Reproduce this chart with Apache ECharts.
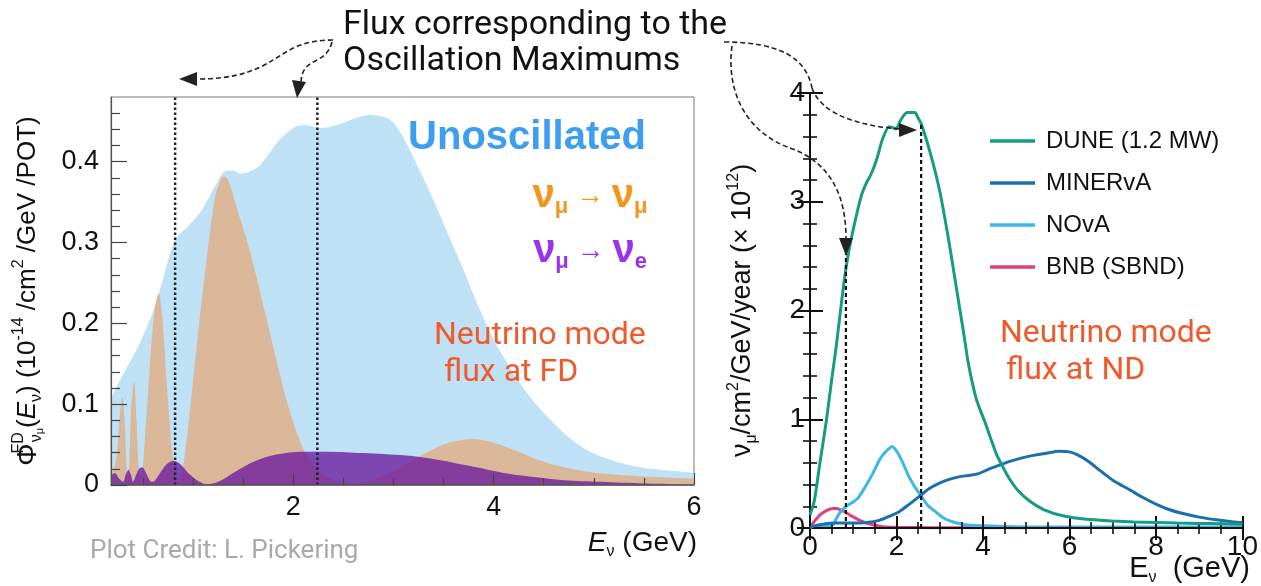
<!DOCTYPE html>
<html>
<head>
<meta charset="utf-8">
<script src="https://cdn.jsdelivr.net/npm/echarts@6/dist/echarts.min.js"></script>
<style>
  html, body { margin: 0; padding: 0; background: #fff; }
  #chart { width: 1261px; height: 586px; }
</style>
</head>
<body>
<div id="chart"></div>
<script>
// ---- Far detector flux (10^-14 /cm^2 /GeV /POT) ----
const unoscE    = [0.18,0.25,0.35,0.47,0.6,0.7,0.82,0.95,1.07,1.2,1.32,1.4,1.47,1.57,1.67,1.76,1.84,1.94,2.04,2.14,2.24,2.37,2.5,2.63,2.77,2.88,2.97,3.07,3.2,3.32,3.45,3.57,3.7,3.82,4.0,4.12,4.24,4.37,4.5,4.62,4.74,4.87,5.0,5.17,5.34,5.5,5.67,5.84,6.0];
const unoscFlux = [0.107,0.125,0.148,0.176,0.215,0.255,0.303,0.32,0.337,0.365,0.388,0.389,0.385,0.388,0.396,0.41,0.424,0.436,0.444,0.445,0.442,0.443,0.448,0.454,0.458,0.456,0.452,0.436,0.405,0.374,0.338,0.303,0.266,0.229,0.18,0.154,0.13,0.108,0.089,0.074,0.06,0.048,0.039,0.031,0.025,0.021,0.019,0.017,0.015];

const numuE    = [0.18,0.23,0.27,0.295,0.32,0.345,0.36,0.38,0.41,0.435,0.46,0.48,0.52,0.58,0.62,0.655,0.69,0.74,0.79,0.84,0.88,0.93,1.0,1.06,1.15,1.22,1.28,1.31,1.35,1.45,1.55,1.64,1.72,1.8,1.88,1.97,2.09,2.19,2.3,2.45,2.6,2.8,3.0,3.14,3.3,3.5,3.65,3.8,3.95,4.1,4.25,4.4,4.6,4.9,5.2,5.6,6.0];
const numuFlux = [0.01,0.03,0.09,0.109,0.07,0.01,0.02,0.09,0.128,0.08,0.015,0.01,0.06,0.17,0.22,0.237,0.21,0.12,0.04,0.003,0.012,0.05,0.13,0.2,0.295,0.357,0.379,0.382,0.377,0.337,0.297,0.254,0.212,0.171,0.13,0.089,0.047,0.027,0.013,0.004,0.002,0.007,0.017,0.027,0.038,0.05,0.055,0.057,0.054,0.048,0.041,0.033,0.025,0.017,0.013,0.01,0.008];

const nueE    = [0.18,0.22,0.26,0.3,0.33,0.355,0.38,0.4,0.43,0.46,0.49,0.53,0.57,0.6,0.66,0.73,0.8,0.87,0.95,1.05,1.14,1.25,1.4,1.57,1.74,1.9,2.07,2.3,2.6,2.8,3.07,3.3,3.5,3.74,3.94,4.15,4.4,4.7,5.07,5.5,6.0];
const nueFlux = [0.012,0.015,0.008,0.004,0.014,0.019,0.012,0.004,0.012,0.02,0.022,0.015,0.005,0.004,0.013,0.025,0.03,0.026,0.015,0.005,0.001,0.004,0.015,0.027,0.035,0.039,0.041,0.041,0.04,0.039,0.037,0.034,0.03,0.024,0.019,0.014,0.01,0.006,0.004,0.002,0.001];

// oscillation-maximum energies marked on the FD plot (GeV)
const fdOscMax = [0.82, 2.24];
const fdMinorTicks = [0.5,1,1.5,2.5,3,3.5,4.5,5,5.5];
const fdMajorTicks = [2,4,6];
const fdYMajor = [0,0.1,0.2,0.3,0.4];
const fdYMinor = [0.02,0.04,0.06,0.08,0.12,0.14,0.16,0.18,0.22,0.24,0.26,0.28,0.32,0.34,0.36,0.38,0.42,0.44,0.46];

// ---- Near detector nu_mu flux (x10^12 /cm^2 /GeV /year) ----
const duneE    = [0,0.1,0.23,0.38,0.5,0.6,0.7,0.8,0.9,1.03,1.19,1.3,1.42,1.55,1.68,1.83,1.92,1.99,2.07,2.16,2.25,2.35,2.43,2.5,2.57,2.67,2.78,2.9,3.02,3.14,3.26,3.38,3.49,3.57,3.65,3.74,3.85,3.95,4.05,4.2,4.32,4.45,4.6,4.8,5.07,5.4,5.87,6.4,7.0,7.5,8.0,8.5,9.0,9.5,10];
const duneFlux = [0.12,0.25,0.6,0.99,1.36,1.65,1.98,2.3,2.55,2.8,3.06,3.17,3.26,3.4,3.58,3.69,3.68,3.67,3.73,3.79,3.82,3.82,3.82,3.77,3.72,3.6,3.45,3.27,3.06,2.8,2.52,2.22,1.95,1.75,1.54,1.36,1.18,1.07,0.97,0.8,0.67,0.57,0.46,0.35,0.25,0.17,0.11,0.08,0.065,0.055,0.05,0.045,0.042,0.04,0.035];

const minervaE    = [0,0.1,0.3,0.6,1.0,1.3,1.6,1.85,2.06,2.3,2.56,2.75,2.98,3.2,3.44,3.7,3.9,4.1,4.36,4.6,4.9,5.2,5.5,5.75,6.0,6.2,6.45,6.7,7.0,7.4,7.7,8.0,8.3,8.6,9.0,9.4,9.8,10];
const minervaFlux = [0,0.02,0.035,0.045,0.045,0.05,0.07,0.11,0.15,0.22,0.3,0.36,0.41,0.445,0.47,0.485,0.5,0.535,0.575,0.61,0.645,0.67,0.69,0.705,0.7,0.67,0.61,0.53,0.44,0.35,0.28,0.22,0.17,0.135,0.1,0.075,0.055,0.05];

const novaE    = [0,0.3,0.53,0.6,0.69,0.84,1.0,1.1,1.25,1.45,1.6,1.68,1.8,1.9,1.98,2.06,2.18,2.29,2.42,2.56,2.72,2.9,3.1,3.28,3.59,4.0,5.0,6.0,8.0,10];
const novaFlux = [0,0.01,0.03,0.08,0.14,0.2,0.24,0.27,0.36,0.5,0.62,0.67,0.72,0.75,0.72,0.67,0.57,0.47,0.38,0.3,0.21,0.15,0.09,0.06,0.03,0.02,0.01,0.01,0.01,0.01];

const bnbE    = [0,0.1,0.23,0.38,0.53,0.62,0.69,0.8,0.92,1.03,1.15,1.3,1.45,1.6,1.76,2.0,2.5,3.0,4.0,5.0];
const bnbFlux = [0.01,0.06,0.12,0.16,0.18,0.18,0.17,0.15,0.12,0.095,0.07,0.045,0.03,0.017,0.01,0.006,0.004,0.003,0.002,0.001];

// oscillation-maximum energies and the flux level the guide lines reach
const ndOscMax = [0.83, 2.57];
const ndOscTop = [2.52, 3.72];

const ndNames  = ['DUNE (1.2 MW)', 'MINERvA', 'NOvA', 'BNB (SBND)'];
const ndColors = ['#169c86', '#1b6fae', '#3cb8e6', '#e0407c'];

const zip = (xs, ys) => xs.map((x, i) => [x, ys[i]]);

const numFont = 'Liberation Sans, Arial, sans-serif';
const txtFont = 'Roboto, sans-serif';

const chart = echarts.init(document.getElementById('chart'), null, { renderer: 'canvas' });

const tickLine = { color: '#444', width: 1.2 };
const blackTick = { color: '#111', width: 2 };
const TOP = 100;

function richSmall(base, lh) {
  return {
    b:   { fontSize: base, fontFamily: numFont, color: '#111', lineHeight: lh },
    p:   { fontSize: base + 2, fontFamily: numFont, color: '#111', lineHeight: lh },
    i:   { fontSize: base, fontFamily: numFont, fontStyle: 'italic', color: '#111', lineHeight: lh },
    sup: { fontSize: 16, fontFamily: numFont, color: '#111', lineHeight: 18, verticalAlign: 'top' },
    fd:  { fontSize: 16, fontFamily: numFont, color: '#111', lineHeight: 18, verticalAlign: 'top', width: 1 },
    sub: { fontSize: 16, fontFamily: numFont, color: '#111', lineHeight: 20, verticalAlign: 'bottom' },
    ss:  { fontSize: 11, fontFamily: numFont, color: '#111', lineHeight: 14, verticalAlign: 'bottom' }
  };
}

const option = {
  animation: false,
  backgroundColor: '#fff',
  grid: [
    { left: 111, top: 97, width: 583, height: 388, show: true, borderColor: '#7a7a7a', borderWidth: 1, backgroundColor: 'transparent' },
    { left: 810, top: 93, width: 436, height: 435 }
  ],
  xAxis: [
    { // FD energy axis: labels + short ticks
      gridIndex: 0, type: 'value', min: 0.18, max: 6, position: 'bottom', z: 5,
      axisLine: { show: true, lineStyle: { color: '#555', width: 1.5 } },
      axisTick: { show: true, inside: true, length: 7, customValues: fdMinorTicks, lineStyle: tickLine },
      axisLabel: { customValues: fdMajorTicks, fontSize: 27, color: '#111', fontFamily: numFont, margin: 9 },
      splitLine: { show: false }
    },
    { // FD energy axis: long ticks
      gridIndex: 0, type: 'value', min: 0.18, max: 6, position: 'bottom', z: 5,
      axisLine: { show: false },
      axisTick: { show: true, inside: true, length: 12, customValues: fdMajorTicks, lineStyle: tickLine },
      axisLabel: { show: false },
      splitLine: { show: false }
    },
    { // ND energy axis
      gridIndex: 1, type: 'value', min: 0, max: 10, interval: 2, position: 'bottom', z: 5,
      axisLine: { show: true, lineStyle: { color: '#111', width: 2 } },
      axisTick: { show: true, inside: true, length: 12, lineStyle: blackTick },
      minorTick: { show: true, splitNumber: 4, length: 6, lineStyle: { color: '#111', width: 1.6 } },
      axisLabel: { fontSize: 28, color: '#111', fontFamily: numFont, margin: 5 },
      splitLine: { show: false }
    },
    { // ND top frame
      gridIndex: 1, type: 'value', min: 0, max: 10, interval: 2, position: 'top', z: 5,
      axisLine: { show: true, lineStyle: { color: '#111', width: 2 } },
      axisTick: { show: true, inside: true, length: 12, lineStyle: blackTick },
      minorTick: { show: true, splitNumber: 4, length: 6, lineStyle: { color: '#111', width: 1.6 } },
      axisLabel: { show: false },
      splitLine: { show: false }
    }
  ],
  yAxis: [
    { // FD flux axis: labels + long ticks
      gridIndex: 0, type: 'value', min: 0, max: 0.48, position: 'left', z: 5,
      axisLine: { show: true, lineStyle: { color: '#555', width: 1.2 } },
      axisTick: { show: true, inside: true, length: 16, customValues: fdYMajor, lineStyle: tickLine },
      axisLabel: { customValues: fdYMajor, fontSize: 27, color: '#111', fontFamily: numFont, margin: 12 },
      splitLine: { show: false },
      nameLocation: 'middle', nameRotate: 90, nameGap: 66,
      name: '{p|Φ}{fd|FD}{sub|ν}{ss|μ}{b|(}{i|E}{sub|ν}{b|) (10}{sup|-14}{b| /cm}{sup|2}{b| /GeV /POT)}',
      nameTextStyle: { rich: richSmall(26, 34) }
    },
    { // FD flux axis: short ticks
      gridIndex: 0, type: 'value', min: 0, max: 0.48, position: 'left', z: 5,
      axisLine: { show: false },
      axisTick: { show: true, inside: true, length: 9, customValues: fdYMinor, lineStyle: tickLine },
      axisLabel: { show: false },
      splitLine: { show: false }
    },
    { // ND flux axis
      gridIndex: 1, type: 'value', min: 0, max: 4, interval: 1, position: 'left', z: 5,
      axisLine: { show: true, lineStyle: { color: '#111', width: 2 } },
      axisTick: { show: true, inside: true, length: 13, lineStyle: blackTick },
      minorTick: { show: true, splitNumber: 5, length: 7, lineStyle: { color: '#111', width: 1.6 } },
      axisLabel: { fontSize: 28, color: '#111', fontFamily: numFont, margin: 5 },
      splitLine: { show: false },
      nameLocation: 'middle', nameRotate: 90, nameGap: 50,
      name: '{b|ν}{sub|μ}{b|/cm}{sup|2}{b|/GeV/year (× 10}{sup|12}{b|)}',
      nameTextStyle: { rich: richSmall(27, 34) }
    },
    { // ND right frame
      gridIndex: 1, type: 'value', min: 0, max: 4, interval: 1, position: 'right', z: 5,
      axisLine: { show: true, lineStyle: { color: '#111', width: 2 } },
      axisTick: { show: true, inside: true, length: 13, lineStyle: blackTick },
      minorTick: { show: true, splitNumber: 5, length: 7, lineStyle: { color: '#111', width: 1.6 } },
      axisLabel: { show: false },
      splitLine: { show: false }
    }
  ],
  legend: {
    data: ndNames,
    orient: 'vertical',
    left: 985, top: 124,
    icon: 'rect',
    itemWidth: 45, itemHeight: 3.5, itemGap: 18,
    textStyle: { fontSize: 24, fontFamily: numFont, color: '#111', padding: [0, 0, 0, 6], lineHeight: 24 },
    selectedMode: false
  },
  series: [
    {
      name: 'Unoscillated', type: 'line', xAxisIndex: 0, yAxisIndex: 0,
      data: zip(unoscE, unoscFlux), smooth: 0.3, symbol: 'none',
      lineStyle: { width: 0 }, areaStyle: { color: '#bfe1f6', opacity: 1 }, z: 1
    },
    {
      name: 'numu survival', type: 'line', xAxisIndex: 0, yAxisIndex: 0,
      data: zip(numuE, numuFlux), smooth: 0.3, symbol: 'none',
      lineStyle: { width: 0 }, areaStyle: { color: '#dbb799', opacity: 1 }, z: 2
    },
    {
      name: 'nue appearance', type: 'line', xAxisIndex: 0, yAxisIndex: 0,
      data: zip(nueE, nueFlux), smooth: 0.3, symbol: 'none',
      lineStyle: { width: 0 }, areaStyle: { color: 'rgb(104,22,156)', opacity: 0.76 }, z: 3
    },
    ...fdOscMax.map((e, i) => ({
      name: 'fd-osc-max-' + i, type: 'line', xAxisIndex: 0, yAxisIndex: 0,
      data: [[e, 0], [e, 0.48]], symbol: 'none', z: 4,
      lineStyle: { color: '#222', width: 2.5, type: [2.5, 2.5] }
    })),
    ...[duneFlux, minervaFlux, novaFlux, bnbFlux].map((ys, k) => ({
      name: ndNames[k], type: 'line', xAxisIndex: 2, yAxisIndex: 2,
      data: zip([duneE, minervaE, novaE, bnbE][k], ys), smooth: 0.25,
      symbol: 'none', showSymbol: false, color: ndColors[k],
      itemStyle: { color: ndColors[k] },
      lineStyle: { color: ndColors[k], width: 3 }, z: 3 + (3 - k)
    })),
    ...ndOscMax.map((e, i) => ({
      name: 'nd-osc-max-' + i, type: 'line', xAxisIndex: 2, yAxisIndex: 2,
      data: [[e, 0], [e, ndOscTop[i]]], symbol: 'none', z: 8,
      lineStyle: { color: '#111', width: 2.2, type: [4, 3] }
    }))
  ],
  graphic: [
    // headline
    { type: 'text', z: TOP, x: 343, y: 25, style: { text: 'Flux corresponding to the', font: '34px ' + txtFont, fill: '#111', verticalAlign: 'middle' } },
    { type: 'text', z: TOP, x: 343, y: 61, style: { text: 'Oscillation Maximums', font: '34px ' + txtFont, fill: '#111', verticalAlign: 'middle' } },
    // dashed guides from the headline
    { type: 'bezierCurve', z: TOP, shape: { x1: 333, y1: 40, cpx1: 272, cpy1: 40, cpx2: 282, cpy2: 79, x2: 196, y2: 79 }, style: { stroke: '#222', lineWidth: 1.6, lineDash: [5, 3], fill: null } },
    { type: 'polygon', z: TOP, shape: { points: [[179, 79], [197, 72], [197, 86]] }, style: { fill: '#222' } },
    { type: 'bezierCurve', z: TOP, shape: { x1: 332, y1: 42, cpx1: 326, cpy1: 66, cpx2: 302, cpy2: 56, x2: 301, y2: 82 }, style: { stroke: '#222', lineWidth: 1.6, lineDash: [5, 3], fill: null } },
    { type: 'polygon', z: TOP, shape: { points: [[297, 98], [292, 80], [306, 82]] }, style: { fill: '#222' } },
    { type: 'bezierCurve', z: TOP, shape: { x1: 724, y1: 42, cpx1: 780, cpy1: 42, cpx2: 806, cpy2: 58, x2: 812, y2: 88 }, style: { stroke: '#222', lineWidth: 1.6, lineDash: [5, 3], fill: null } },
    { type: 'bezierCurve', z: TOP, shape: { x1: 812, y1: 88, cpx1: 822, cpy1: 116, cpx2: 862, cpy2: 126, x2: 900, y2: 129 }, style: { stroke: '#222', lineWidth: 1.6, lineDash: [5, 3], fill: null } },
    { type: 'polygon', z: TOP, shape: { points: [[917, 130], [899, 123], [899, 137]] }, style: { fill: '#222' } },
    { type: 'bezierCurve', z: TOP, shape: { x1: 732, y1: 46, cpx1: 726, cpy1: 90, cpx2: 745, cpy2: 132, x2: 790, y2: 148 }, style: { stroke: '#222', lineWidth: 1.6, lineDash: [5, 3], fill: null } },
    { type: 'bezierCurve', z: TOP, shape: { x1: 790, y1: 148, cpx1: 830, cpy1: 162, cpx2: 846, cpy2: 195, x2: 846, y2: 238 }, style: { stroke: '#222', lineWidth: 1.6, lineDash: [5, 3], fill: null } },
    { type: 'polygon', z: TOP, shape: { points: [[846, 256], [839, 238], [853, 238]] }, style: { fill: '#222' } },
    // FD plot key
    { type: 'text', z: TOP, x: 527, y: 138, style: { text: 'Unoscillated', font: 'bold 40px ' + numFont, fill: '#3d9df0', align: 'center', verticalAlign: 'middle' } },
    { type: 'text', z: TOP, x: 590, y: 196, style: {
        text: '{n|ν}{s|μ}{a| → }{n|ν}{s|μ}', align: 'center', verticalAlign: 'middle',
        rich: {
          n: { fill: '#f7941d', fontSize: 40, fontWeight: 'bold', fontFamily: numFont, lineHeight: 44 },
          s: { fill: '#f7941d', fontSize: 22, fontWeight: 'bold', fontFamily: numFont, lineHeight: 22, verticalAlign: 'bottom' },
          a: { fill: '#f7941d', fontSize: 28, fontFamily: numFont, lineHeight: 40 }
        } } },
    { type: 'text', z: TOP, x: 590, y: 251, style: {
        text: '{n|ν}{s|μ}{a| → }{n|ν}{s|e}', align: 'center', verticalAlign: 'middle',
        rich: {
          n: { fill: '#9a33ee', fontSize: 40, fontWeight: 'bold', fontFamily: numFont, lineHeight: 44 },
          s: { fill: '#9a33ee', fontSize: 22, fontWeight: 'bold', fontFamily: numFont, lineHeight: 22, verticalAlign: 'bottom' },
          a: { fill: '#9a33ee', fontSize: 28, fontFamily: numFont, lineHeight: 40 }
        } } },
    { type: 'text', z: TOP, x: 434, y: 336, style: { text: 'Neutrino mode', font: '32px ' + txtFont, fill: '#ef5a2b', verticalAlign: 'middle' } },
    { type: 'text', z: TOP, x: 444, y: 373, style: { text: 'flux at FD', font: '32px ' + txtFont, fill: '#ef5a2b', verticalAlign: 'middle' } },
    { type: 'text', z: TOP, x: 1000, y: 334, style: { text: 'Neutrino mode', font: '32px ' + txtFont, fill: '#ef5a2b', verticalAlign: 'middle' } },
    { type: 'text', z: TOP, x: 1006, y: 371, style: { text: 'flux at ND', font: '32px ' + txtFont, fill: '#ef5a2b', verticalAlign: 'middle' } },
    { type: 'text', z: TOP, x: 90, y: 551, style: { text: 'Plot Credit: L. Pickering', font: '26px ' + txtFont, fill: '#a9a9a9', verticalAlign: 'middle' } },
    // energy axis titles
    { type: 'text', z: TOP, x: 697, y: 543, style: {
        text: '{i|E}{s|ν}{b| (GeV)}', align: 'right', verticalAlign: 'middle',
        rich: {
          i: { fill: '#111', fontSize: 28, fontStyle: 'italic', fontFamily: numFont, lineHeight: 34 },
          s: { fill: '#111', fontSize: 16, fontFamily: numFont, lineHeight: 18, verticalAlign: 'bottom' },
          b: { fill: '#111', fontSize: 28, fontFamily: numFont, lineHeight: 34 }
        } } },
    { type: 'text', z: TOP, x: 1250, y: 569, style: {
        text: '{i|E}{s|ν}{b|  (GeV)}', align: 'right', verticalAlign: 'middle',
        rich: {
          i: { fill: '#111', fontSize: 29, fontFamily: numFont, lineHeight: 34 },
          s: { fill: '#111', fontSize: 16, fontFamily: numFont, lineHeight: 18, verticalAlign: 'bottom' },
          b: { fill: '#111', fontSize: 29, fontFamily: numFont, lineHeight: 34 }
        } } }
  ]
};

chart.setOption(option);
</script>
</body>
</html>
